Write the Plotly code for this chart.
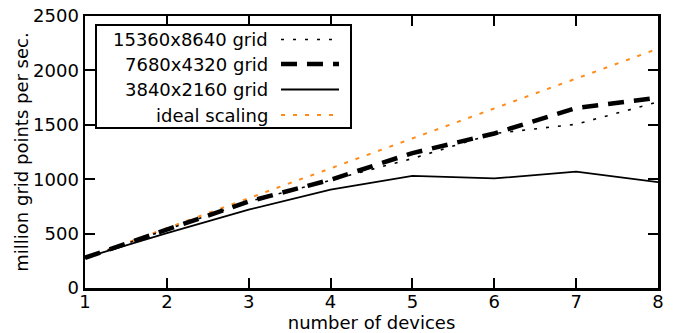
import plotly.graph_objects as go

devices = [1, 2, 3, 4, 5, 6, 7, 8]
grid_15360 = [278, 535, 795, 990, 1190, 1420, 1505, 1710]
grid_7680 = [278, 535, 795, 995, 1240, 1420, 1655, 1750]
grid_3840 = [278, 505, 720, 905, 1030, 1007, 1070, 973]
ideal = [275, 550, 825, 1100, 1375, 1650, 1925, 2200]
names = ["15360x8640 grid", "7680x4320 grid", "3840x2160 grid", "ideal scaling"]
x_ticks = [1, 2, 3, 4, 5, 6, 7, 8]
y_ticks = [0, 500, 1000, 1500, 2000, 2500]

ORANGE = "#ff8c1a"
styles = [
    dict(color="black", width=1.6, dash="3px,9px"),
    dict(color="black", width=4.5, dash="16px,10px"),
    dict(color="black", width=1.8, dash="solid"),
    dict(color=ORANGE, width=2, dash="4px,8px"),
]
series = [grid_15360, grid_7680, grid_3840, ideal]

fig = go.Figure()
for i in [3, 2, 0, 1]:
    fig.add_trace(go.Scatter(x=devices, y=series[i], mode="lines", name=names[i],
                             line=styles[i], showlegend=False))

FONT = "DejaVu Sans, Liberation Sans, sans-serif"
FS = 18
W, H = 683, 333
L, R, T, B = 85, 25, 16, 45
pw, ph = W - L - R, H - T - B

def px(xp):
    return (xp - L) / pw

def py(yp):
    return 1 - (yp - T) / ph

shapes = []
annotations = []
shapes.append(dict(type="rect", xref="paper", yref="paper",
                   x0=px(96), x1=px(351), y0=py(25), y1=py(128),
                   line=dict(color="black", width=2), fillcolor="white", layer="above"))
rows = [39.5, 64, 89.5, 115]
for i, yy in enumerate(rows):
    annotations.append(dict(xref="paper", yref="paper", x=px(270), y=py(yy),
                            text=names[i], showarrow=False, xanchor="right", yanchor="middle",
                            font=dict(family=FONT, size=FS, color="black")))
    st = styles[i]
    shapes.append(dict(type="line", xref="paper", yref="paper",
                       x0=px(281), x1=px(339), y0=py(yy), y1=py(yy),
                       line=dict(color=st["color"], width=st["width"], dash=st["dash"]),
                       layer="above"))

fig.update_layout(
    width=W, height=H,
    margin=dict(l=L, r=R, t=T, b=B),
    plot_bgcolor="white", paper_bgcolor="white",
    font=dict(family=FONT, size=FS, color="black"),
    shapes=shapes, annotations=annotations,
    hovermode=False,
    xaxis=dict(range=[1, 8], tickvals=x_ticks, ticks="inside", ticklen=10, tickwidth=2,
               tickcolor="black", showline=True, linecolor="black", linewidth=2.5,
               mirror="ticks", showgrid=False, zeroline=False, automargin=False,
               tickfont=dict(family=FONT, size=FS), ticklabelstandoff=-4,
               ticklabeloverflow="allow",
               title=dict(text="number of devices", standoff=0,
                          font=dict(family=FONT, size=FS))),
    yaxis=dict(range=[0, 2500], tickvals=y_ticks, ticks="inside", ticklen=10, tickwidth=2,
               tickcolor="black", showline=True, linecolor="black", linewidth=2.5,
               mirror="ticks", showgrid=False, zeroline=False, automargin=False,
               tickfont=dict(family=FONT, size=FS), ticklabeloverflow="allow",
               title=dict(text="million grid points per sec.", standoff=0,
                          font=dict(family=FONT, size=FS))),
)

fig.write_html("out.html", config={"displayModeBar": False, "staticPlot": True},
               post_script="document.body.style.margin='0';document.body.style.overflow='hidden';")
